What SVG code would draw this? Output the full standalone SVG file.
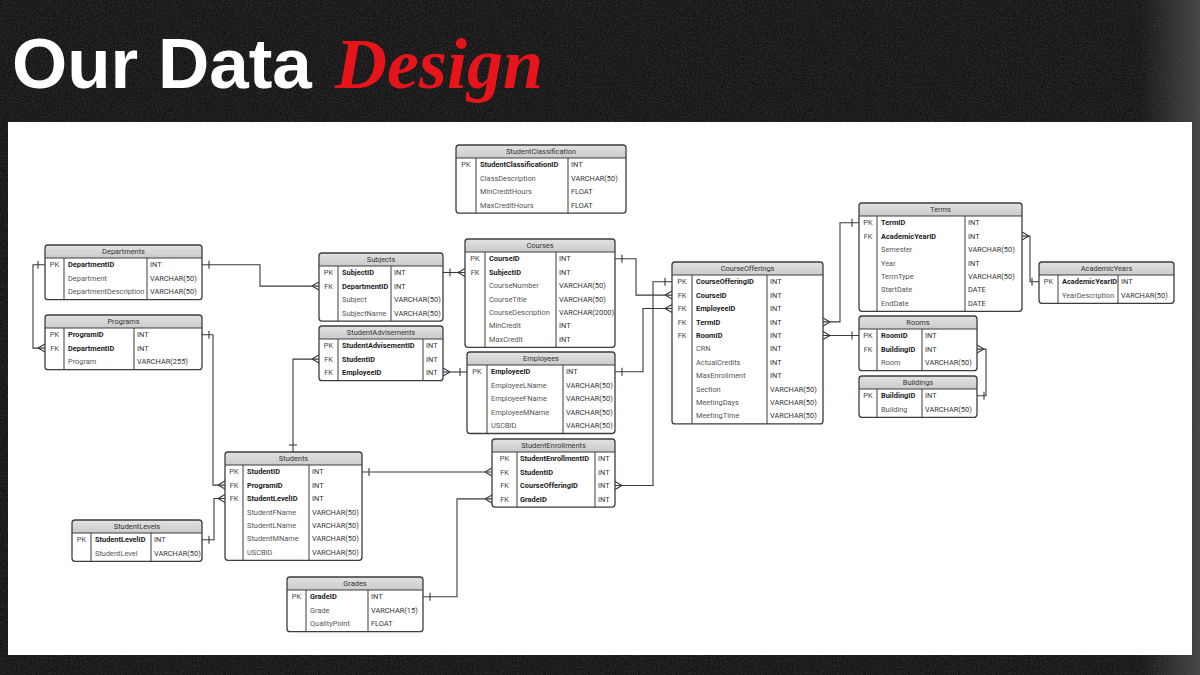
<svg xmlns="http://www.w3.org/2000/svg" width="1200" height="675" viewBox="0 0 1200 675">
<defs>
<filter id="noise" x="0" y="0" width="100%" height="100%">
<feTurbulence type="fractalNoise" baseFrequency="0.8" numOctaves="3" seed="4"/>
<feColorMatrix type="matrix" values="0 0 0 0 1  0 0 0 0 1  0 0 0 0 1  0.22 0 0 0 -0.07"/>
</filter>
<linearGradient id="rg" x1="0" y1="0" x2="1" y2="0">
<stop offset="0" stop-color="#555" stop-opacity="0"/>
<stop offset="1" stop-color="#5a5a5a" stop-opacity="0.7"/>
</linearGradient>
<linearGradient id="hg" x1="0" y1="0" x2="0" y2="1">
<stop offset="0" stop-color="#e2e2e2"/>
<stop offset="1" stop-color="#cbcbcb"/>
</linearGradient>
<marker id="one" markerUnits="userSpaceOnUse" markerWidth="20" markerHeight="20" viewBox="-10 -10 20 20" refX="0" refY="0" orient="auto">
<path d="M7,-4 V4" stroke="#3a3a3a" stroke-width="1.1" fill="none"/>
</marker>
<marker id="many" markerUnits="userSpaceOnUse" markerWidth="20" markerHeight="20" viewBox="-10 -10 20 20" refX="0" refY="0" orient="auto">
<path d="M-7,0 L0,-4 M-7,0 L0,4" stroke="#3a3a3a" stroke-width="1.1" fill="none"/>
</marker>
<style>
.bx{fill:none;stroke:#3d3d3d;stroke-width:1.3}
.hd{fill:url(#hg)}
.ln{fill:none;stroke:#3d3d3d;stroke-width:1}
text{font-family:Roboto,"Liberation Sans",Arial,sans-serif;font-size:7.4px}
.h{fill:#333;text-anchor:middle}
.k{fill:#444;text-anchor:middle}
.b{fill:#222;font-weight:bold}
.n{fill:#555}
.t{fill:#333}
.c{fill:none;stroke:#3a3a3a;stroke-width:1.1;marker-start:url(#one);marker-end:url(#many)}
</style>
</defs>
<rect width="1200" height="675" fill="#141414"/>
<rect width="1200" height="675" filter="url(#noise)"/>
<rect x="1140" y="0" width="60" height="675" fill="url(#rg)"/>
<rect x="8" y="122" width="1184" height="533" fill="#ffffff"/>
<g id="title">
<text x="12" y="88" style="font-family:'Liberation Sans',Arial,sans-serif;font-size:71px;font-weight:bold;fill:#ffffff">Our Data</text>
<text x="335" y="88" style="font-family:'Liberation Serif','Times New Roman',serif;font-size:72px;font-weight:bold;font-style:italic;fill:#e8141b">Design</text>
</g>
<g id="connectors">
<path class="c" d="M45,264.7 H33 V348.1 H45"/>
<path class="c" d="M202,264.7 H260 V286.1 H319"/>
<path class="c" d="M202,334.7 H213 V485.1 H225"/>
<path class="c" d="M202,539.7 H214 V498.5 H225"/>
<path class="c" d="M362,472 H492"/>
<path class="c" d="M293,452 V359.1 H319"/>
<path class="c" d="M443,272.5 H465"/>
<path class="c" d="M467,372 H443"/>
<path class="c" d="M615,371.7 H643 V308.5 H672"/>
<path class="c" d="M615,258.7 H636 V295.1 H672"/>
<path class="c" d="M672,281.7 H653 V485.5 H615"/>
<path class="c" d="M859,222.7 H840 V321.9 H823"/>
<path class="c" d="M859,335.5 H823"/>
<path class="c" d="M1039,281.7 H1030 V236.1 H1022"/>
<path class="c" d="M977,395.7 H986 V349.1 H977"/>
<path class="c" d="M423,596.7 H457 V498.9 H492"/>
</g>
<g id="StudentClassification">
<rect x="456" y="145" width="170" height="68.1" rx="3" fill="#fff"/>
<path class="hd" d="M456,158 V148 Q456,145 459,145 H623 Q626,145 626,148 V158 Z"/>
<rect class="bx" x="456" y="145" width="170" height="68.1" rx="3"/>
<path class="ln" d="M456,158 H626 M476,158 V213.1 M568,158 V213.1"/>
<text class="h" x="541" y="154.2">StudentClassification</text>
<text class="k" x="466" y="167.4">PK</text>
<text class="b" x="480" y="167.4">StudentClassificationID</text><text class="t" x="571" y="167.4">INT</text>
<text class="n" x="480" y="180.8">ClassDescription</text><text class="t" x="571" y="180.8">VARCHAR(50)</text>
<text class="n" x="480" y="194.2">MinCreditHours</text><text class="t" x="571" y="194.2">FLOAT</text>
<text class="n" x="480" y="207.6">MaxCreditHours</text><text class="t" x="571" y="207.6">FLOAT</text>
</g>
<g id="Departments">
<rect x="45" y="245" width="157" height="54.7" rx="3" fill="#fff"/>
<path class="hd" d="M45,258 V248 Q45,245 48,245 H199 Q202,245 202,248 V258 Z"/>
<rect class="bx" x="45" y="245" width="157" height="54.7" rx="3"/>
<path class="ln" d="M45,258 H202 M64,258 V299.7 M147,258 V299.7"/>
<text class="h" x="123.5" y="254.2">Departments</text>
<text class="k" x="54.5" y="267.4">PK</text>
<text class="b" x="68" y="267.4">DepartmentID</text><text class="t" x="150" y="267.4">INT</text>
<text class="n" x="68" y="280.8">Department</text><text class="t" x="150" y="280.8">VARCHAR(50)</text>
<text class="n" x="68" y="294.2">DepartmentDescription</text><text class="t" x="150" y="294.2">VARCHAR(50)</text>
</g>
<g id="Programs">
<rect x="45" y="315" width="157" height="54.7" rx="3" fill="#fff"/>
<path class="hd" d="M45,328 V318 Q45,315 48,315 H199 Q202,315 202,318 V328 Z"/>
<rect class="bx" x="45" y="315" width="157" height="54.7" rx="3"/>
<path class="ln" d="M45,328 H202 M64,328 V369.7 M134,328 V369.7"/>
<text class="h" x="123.5" y="324.2">Programs</text>
<text class="k" x="54.5" y="337.4">PK</text>
<text class="b" x="68" y="337.4">ProgramID</text><text class="t" x="137" y="337.4">INT</text>
<text class="k" x="54.5" y="350.8">FK</text>
<text class="b" x="68" y="350.8">DepartmentID</text><text class="t" x="137" y="350.8">INT</text>
<text class="n" x="68" y="364.2">Program</text><text class="t" x="137" y="364.2">VARCHAR(255)</text>
</g>
<g id="Subjects">
<rect x="319" y="253" width="124" height="68.1" rx="3" fill="#fff"/>
<path class="hd" d="M319,266 V256 Q319,253 322,253 H440 Q443,253 443,256 V266 Z"/>
<rect class="bx" x="319" y="253" width="124" height="68.1" rx="3"/>
<path class="ln" d="M319,266 H443 M338,266 V321.1 M391,266 V321.1"/>
<text class="h" x="381" y="262.2">Subjects</text>
<text class="k" x="328.5" y="275.4">PK</text>
<text class="b" x="342" y="275.4">SubjectID</text><text class="t" x="394" y="275.4">INT</text>
<text class="k" x="328.5" y="288.8">FK</text>
<text class="b" x="342" y="288.8">DepartmentID</text><text class="t" x="394" y="288.8">INT</text>
<text class="n" x="342" y="302.2">Subject</text><text class="t" x="394" y="302.2">VARCHAR(50)</text>
<text class="n" x="342" y="315.6">SubjectName</text><text class="t" x="394" y="315.6">VARCHAR(50)</text>
</g>
<g id="StudentAdvisements">
<rect x="319" y="326" width="124" height="54.7" rx="3" fill="#fff"/>
<path class="hd" d="M319,339 V329 Q319,326 322,326 H440 Q443,326 443,329 V339 Z"/>
<rect class="bx" x="319" y="326" width="124" height="54.7" rx="3"/>
<path class="ln" d="M319,339 H443 M338,339 V380.7 M423,339 V380.7"/>
<text class="h" x="381" y="335.2">StudentAdvisements</text>
<text class="k" x="328.5" y="348.4">PK</text>
<text class="b" x="342" y="348.4">StudentAdvisementID</text><text class="t" x="426" y="348.4">INT</text>
<text class="k" x="328.5" y="361.8">FK</text>
<text class="b" x="342" y="361.8">StudentID</text><text class="t" x="426" y="361.8">INT</text>
<text class="k" x="328.5" y="375.2">FK</text>
<text class="b" x="342" y="375.2">EmployeeID</text><text class="t" x="426" y="375.2">INT</text>
</g>
<g id="Courses">
<rect x="465" y="239" width="150" height="108.3" rx="3" fill="#fff"/>
<path class="hd" d="M465,252 V242 Q465,239 468,239 H612 Q615,239 615,242 V252 Z"/>
<rect class="bx" x="465" y="239" width="150" height="108.3" rx="3"/>
<path class="ln" d="M465,252 H615 M485,252 V347.3 M556,252 V347.3"/>
<text class="h" x="540" y="248.2">Courses</text>
<text class="k" x="475" y="261.4">PK</text>
<text class="b" x="489" y="261.4">CourseID</text><text class="t" x="559" y="261.4">INT</text>
<text class="k" x="475" y="274.8">FK</text>
<text class="b" x="489" y="274.8">SubjectID</text><text class="t" x="559" y="274.8">INT</text>
<text class="n" x="489" y="288.2">CourseNumber</text><text class="t" x="559" y="288.2">VARCHAR(50)</text>
<text class="n" x="489" y="301.6">CourseTitle</text><text class="t" x="559" y="301.6">VARCHAR(50)</text>
<text class="n" x="489" y="315">CourseDescription</text><text class="t" x="559" y="315">VARCHAR(2000)</text>
<text class="n" x="489" y="328.4">MinCredit</text><text class="t" x="559" y="328.4">INT</text>
<text class="n" x="489" y="341.8">MaxCredit</text><text class="t" x="559" y="341.8">INT</text>
</g>
<g id="Employees">
<rect x="467" y="352" width="148" height="81.5" rx="3" fill="#fff"/>
<path class="hd" d="M467,365 V355 Q467,352 470,352 H612 Q615,352 615,355 V365 Z"/>
<rect class="bx" x="467" y="352" width="148" height="81.5" rx="3"/>
<path class="ln" d="M467,365 H615 M487,365 V433.5 M563,365 V433.5"/>
<text class="h" x="541" y="361.2">Employees</text>
<text class="k" x="477" y="374.4">PK</text>
<text class="b" x="491" y="374.4">EmployeeID</text><text class="t" x="566" y="374.4">INT</text>
<text class="n" x="491" y="387.8">EmployeeLName</text><text class="t" x="566" y="387.8">VARCHAR(50)</text>
<text class="n" x="491" y="401.2">EmployeeFName</text><text class="t" x="566" y="401.2">VARCHAR(50)</text>
<text class="n" x="491" y="414.6">EmployeeMName</text><text class="t" x="566" y="414.6">VARCHAR(50)</text>
<text class="n" x="491" y="428">USCBID</text><text class="t" x="566" y="428">VARCHAR(50)</text>
</g>
<g id="CourseOfferings">
<rect x="672" y="262" width="151" height="161.9" rx="3" fill="#fff"/>
<path class="hd" d="M672,275 V265 Q672,262 675,262 H820 Q823,262 823,265 V275 Z"/>
<rect class="bx" x="672" y="262" width="151" height="161.9" rx="3"/>
<path class="ln" d="M672,275 H823 M692,275 V423.9 M767,275 V423.9"/>
<text class="h" x="747.5" y="271.2">CourseOfferings</text>
<text class="k" x="682" y="284.4">PK</text>
<text class="b" x="696" y="284.4">CourseOfferingID</text><text class="t" x="770" y="284.4">INT</text>
<text class="k" x="682" y="297.8">FK</text>
<text class="b" x="696" y="297.8">CourseID</text><text class="t" x="770" y="297.8">INT</text>
<text class="k" x="682" y="311.2">FK</text>
<text class="b" x="696" y="311.2">EmployeeID</text><text class="t" x="770" y="311.2">INT</text>
<text class="k" x="682" y="324.6">FK</text>
<text class="b" x="696" y="324.6">TermID</text><text class="t" x="770" y="324.6">INT</text>
<text class="k" x="682" y="338">FK</text>
<text class="b" x="696" y="338">RoomID</text><text class="t" x="770" y="338">INT</text>
<text class="n" x="696" y="351.4">CRN</text><text class="t" x="770" y="351.4">INT</text>
<text class="n" x="696" y="364.8">ActualCredits</text><text class="t" x="770" y="364.8">INT</text>
<text class="n" x="696" y="378.2">MaxEnrollment</text><text class="t" x="770" y="378.2">INT</text>
<text class="n" x="696" y="391.6">Section</text><text class="t" x="770" y="391.6">VARCHAR(50)</text>
<text class="n" x="696" y="405">MeetingDays</text><text class="t" x="770" y="405">VARCHAR(50)</text>
<text class="n" x="696" y="418.4">MeetingTime</text><text class="t" x="770" y="418.4">VARCHAR(50)</text>
</g>
<g id="Terms">
<rect x="859" y="203" width="163" height="108.3" rx="3" fill="#fff"/>
<path class="hd" d="M859,216 V206 Q859,203 862,203 H1019 Q1022,203 1022,206 V216 Z"/>
<rect class="bx" x="859" y="203" width="163" height="108.3" rx="3"/>
<path class="ln" d="M859,216 H1022 M877,216 V311.3 M965,216 V311.3"/>
<text class="h" x="940.5" y="212.2">Terms</text>
<text class="k" x="868" y="225.4">PK</text>
<text class="b" x="881" y="225.4">TermID</text><text class="t" x="968" y="225.4">INT</text>
<text class="k" x="868" y="238.8">FK</text>
<text class="b" x="881" y="238.8">AcademicYearID</text><text class="t" x="968" y="238.8">INT</text>
<text class="n" x="881" y="252.2">Semester</text><text class="t" x="968" y="252.2">VARCHAR(50)</text>
<text class="n" x="881" y="265.6">Year</text><text class="t" x="968" y="265.6">INT</text>
<text class="n" x="881" y="279">TermType</text><text class="t" x="968" y="279">VARCHAR(50)</text>
<text class="n" x="881" y="292.4">StartDate</text><text class="t" x="968" y="292.4">DATE</text>
<text class="n" x="881" y="305.8">EndDate</text><text class="t" x="968" y="305.8">DATE</text>
</g>
<g id="AcademicYears">
<rect x="1039" y="262" width="135" height="41.3" rx="3" fill="#fff"/>
<path class="hd" d="M1039,275 V265 Q1039,262 1042,262 H1171 Q1174,262 1174,265 V275 Z"/>
<rect class="bx" x="1039" y="262" width="135" height="41.3" rx="3"/>
<path class="ln" d="M1039,275 H1174 M1058,275 V303.3 M1118,275 V303.3"/>
<text class="h" x="1106.5" y="271.2">AcademicYears</text>
<text class="k" x="1048.5" y="284.4">PK</text>
<text class="b" x="1062" y="284.4">AcademicYearID</text><text class="t" x="1121" y="284.4">INT</text>
<text class="n" x="1062" y="297.8">YearDescription</text><text class="t" x="1121" y="297.8">VARCHAR(50)</text>
</g>
<g id="Rooms">
<rect x="859" y="316" width="118" height="54.7" rx="3" fill="#fff"/>
<path class="hd" d="M859,329 V319 Q859,316 862,316 H974 Q977,316 977,319 V329 Z"/>
<rect class="bx" x="859" y="316" width="118" height="54.7" rx="3"/>
<path class="ln" d="M859,329 H977 M877,329 V370.7 M922,329 V370.7"/>
<text class="h" x="918" y="325.2">Rooms</text>
<text class="k" x="868" y="338.4">PK</text>
<text class="b" x="881" y="338.4">RoomID</text><text class="t" x="925" y="338.4">INT</text>
<text class="k" x="868" y="351.8">FK</text>
<text class="b" x="881" y="351.8">BuildingID</text><text class="t" x="925" y="351.8">INT</text>
<text class="n" x="881" y="365.2">Room</text><text class="t" x="925" y="365.2">VARCHAR(50)</text>
</g>
<g id="Buildings">
<rect x="859" y="376" width="118" height="41.3" rx="3" fill="#fff"/>
<path class="hd" d="M859,389 V379 Q859,376 862,376 H974 Q977,376 977,379 V389 Z"/>
<rect class="bx" x="859" y="376" width="118" height="41.3" rx="3"/>
<path class="ln" d="M859,389 H977 M877,389 V417.3 M922,389 V417.3"/>
<text class="h" x="918" y="385.2">Buildings</text>
<text class="k" x="868" y="398.4">PK</text>
<text class="b" x="881" y="398.4">BuildingID</text><text class="t" x="925" y="398.4">INT</text>
<text class="n" x="881" y="411.8">Building</text><text class="t" x="925" y="411.8">VARCHAR(50)</text>
</g>
<g id="Students">
<rect x="225" y="452" width="137" height="108.3" rx="3" fill="#fff"/>
<path class="hd" d="M225,465 V455 Q225,452 228,452 H359 Q362,452 362,455 V465 Z"/>
<rect class="bx" x="225" y="452" width="137" height="108.3" rx="3"/>
<path class="ln" d="M225,465 H362 M243,465 V560.3 M309,465 V560.3"/>
<text class="h" x="293.5" y="461.2">Students</text>
<text class="k" x="234" y="474.4">PK</text>
<text class="b" x="247" y="474.4">StudentID</text><text class="t" x="312" y="474.4">INT</text>
<text class="k" x="234" y="487.8">FK</text>
<text class="b" x="247" y="487.8">ProgramID</text><text class="t" x="312" y="487.8">INT</text>
<text class="k" x="234" y="501.2">FK</text>
<text class="b" x="247" y="501.2">StudentLevelID</text><text class="t" x="312" y="501.2">INT</text>
<text class="n" x="247" y="514.6">StudentFName</text><text class="t" x="312" y="514.6">VARCHAR(50)</text>
<text class="n" x="247" y="528">StudentLName</text><text class="t" x="312" y="528">VARCHAR(50)</text>
<text class="n" x="247" y="541.4">StudentMName</text><text class="t" x="312" y="541.4">VARCHAR(50)</text>
<text class="n" x="247" y="554.8">USCBID</text><text class="t" x="312" y="554.8">VARCHAR(50)</text>
</g>
<g id="StudentLevels">
<rect x="72" y="520" width="130" height="41.3" rx="3" fill="#fff"/>
<path class="hd" d="M72,533 V523 Q72,520 75,520 H199 Q202,520 202,523 V533 Z"/>
<rect class="bx" x="72" y="520" width="130" height="41.3" rx="3"/>
<path class="ln" d="M72,533 H202 M91,533 V561.3 M151,533 V561.3"/>
<text class="h" x="137" y="529.2">StudentLevels</text>
<text class="k" x="81.5" y="542.4">PK</text>
<text class="b" x="95" y="542.4">StudentLevelID</text><text class="t" x="154" y="542.4">INT</text>
<text class="n" x="95" y="555.8">StudentLevel</text><text class="t" x="154" y="555.8">VARCHAR(50)</text>
</g>
<g id="StudentEnrollments">
<rect x="492" y="439" width="123" height="68.1" rx="3" fill="#fff"/>
<path class="hd" d="M492,452 V442 Q492,439 495,439 H612 Q615,439 615,442 V452 Z"/>
<rect class="bx" x="492" y="439" width="123" height="68.1" rx="3"/>
<path class="ln" d="M492,452 H615 M517,452 V507.1 M595,452 V507.1"/>
<text class="h" x="553.5" y="448.2">StudentEnrollments</text>
<text class="k" x="504.5" y="461.4">PK</text>
<text class="b" x="520" y="461.4">StudentEnrollmentID</text><text class="t" x="598" y="461.4">INT</text>
<text class="k" x="504.5" y="474.8">FK</text>
<text class="b" x="520" y="474.8">StudentID</text><text class="t" x="598" y="474.8">INT</text>
<text class="k" x="504.5" y="488.2">FK</text>
<text class="b" x="520" y="488.2">CourseOfferingID</text><text class="t" x="598" y="488.2">INT</text>
<text class="k" x="504.5" y="501.6">FK</text>
<text class="b" x="520" y="501.6">GradeID</text><text class="t" x="598" y="501.6">INT</text>
</g>
<g id="Grades">
<rect x="287" y="577" width="136" height="54.7" rx="3" fill="#fff"/>
<path class="hd" d="M287,590 V580 Q287,577 290,577 H420 Q423,577 423,580 V590 Z"/>
<rect class="bx" x="287" y="577" width="136" height="54.7" rx="3"/>
<path class="ln" d="M287,590 H423 M306,590 V631.7 M368,590 V631.7"/>
<text class="h" x="355" y="586.2">Grades</text>
<text class="k" x="296.5" y="599.4">PK</text>
<text class="b" x="310" y="599.4">GradeID</text><text class="t" x="371" y="599.4">INT</text>
<text class="n" x="310" y="612.8">Grade</text><text class="t" x="371" y="612.8">VARCHAR(15)</text>
<text class="n" x="310" y="626.2">QualityPoint</text><text class="t" x="371" y="626.2">FLOAT</text>
</g>
</svg>
